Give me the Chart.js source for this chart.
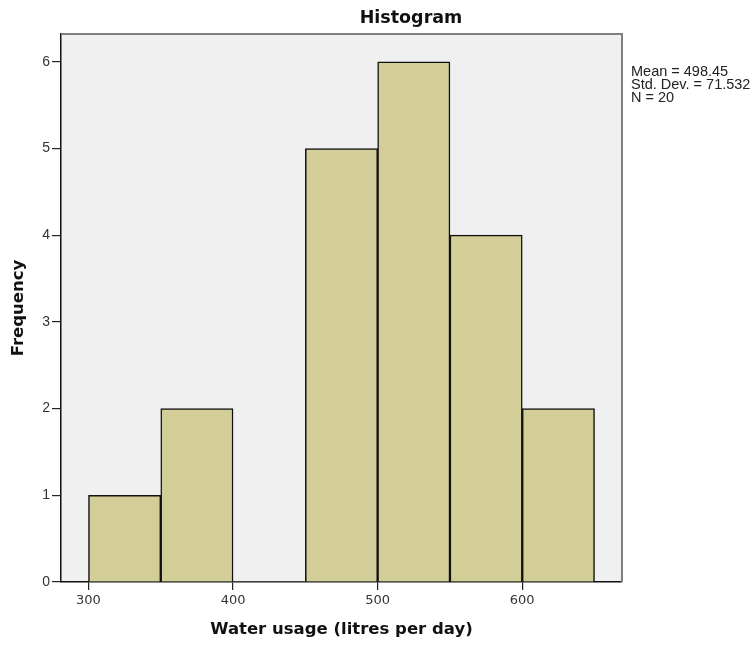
<!DOCTYPE html>
<html>
<head>
<meta charset="utf-8">
<title>Histogram</title>
<script src="https://cdn.jsdelivr.net/npm/chart.js@4"></script>
<style>
  body { margin: 0; background: #ffffff; }
  #wrap { width: 753px; height: 646px; }
</style>
</head>
<body>
<div id="wrap"><canvas id="hist" width="753" height="646"></canvas></div>
<script>
// Histogram data: bin centres (width 50) and counts
const binCentres = [325, 375, 425, 475, 525, 575, 625];
const counts = [1, 2, 0, 5, 6, 4, 2];
const xTicks = [300, 400, 500, 600];
const yTicks = [0, 1, 2, 3, 4, 5, 6];
const statsLines = ['Mean = 498.45', 'Std. Dev. = 71.532', 'N = 20'];

// plot background, top/right frame, title and stats text
const frame = {
  id: 'frame',
  beforeDraw(chart) {
    const { ctx, chartArea: a } = chart;
    ctx.save();
    ctx.fillStyle = '#f0f0f0';
    ctx.fillRect(a.left, a.top, a.right - a.left, a.bottom - a.top);
    ctx.restore();
  },
  afterDraw(chart) {
    const { ctx, chartArea: a } = chart;
    ctx.save();
    ctx.strokeStyle = '#808080';
    ctx.lineWidth = 2;
    ctx.beginPath();
    ctx.moveTo(a.left, a.top);
    ctx.lineTo(a.right, a.top);
    ctx.lineTo(a.right, a.bottom);
    ctx.stroke();

    ctx.fillStyle = '#111';
    ctx.font = 'bold 17.5px "DejaVu Sans"';
    ctx.textAlign = 'center';
    ctx.textBaseline = 'alphabetic';
    ctx.fillText('Histogram', 411, 23);

    ctx.fillStyle = '#222';
    ctx.font = '14.5px "Liberation Sans"';
    ctx.textAlign = 'left';
    statsLines.forEach((s, i) => ctx.fillText(s, 631, 76 + i * 12.8));
    ctx.restore();
  }
};

new Chart(document.getElementById('hist'), {
  type: 'bar',
  data: {
    datasets: [{
      data: binCentres.map((x, i) => ({ x: x, y: counts[i] })),
      backgroundColor: '#d3ce97',
      borderColor: '#111',
      borderWidth: ctx => (ctx.raw && ctx.raw.y === 0 ? 0 : 1.5),
      barPercentage: 1,
      categoryPercentage: 1
    }]
  },
  options: {
    responsive: false,
    animation: false,
    layout: { padding: { top: 34, right: 131, left: 0, bottom: 0 } },
    plugins: { legend: { display: false }, tooltip: { enabled: false } },
    scales: {
      x: {
        type: 'linear',
        min: 281,
        max: 669,
        offset: false,
        afterFit: s => { s.height = 64; },
        afterBuildTicks: s => { s.ticks = xTicks.map(v => ({ value: v })); },
        ticks: { color: '#333', font: { family: 'DejaVu Sans', size: 13 }, padding: 3, maxRotation: 0 },
        grid: { offset: false, drawOnChartArea: false, drawTicks: true, tickLength: 8, color: '#222', lineWidth: 1.2 },
        border: { display: true, color: '#111', width: 1.5 },
        title: { display: true, text: 'Water usage (litres per day)', color: '#111',
                 font: { family: 'DejaVu Sans', size: 16.5, weight: 'bold' }, padding: { top: 0, bottom: 6 } }
      },
      y: {
        min: 0,
        max: 6.32,
        afterFit: s => { s.width = 61; },
        afterBuildTicks: s => { s.ticks = yTicks.map(v => ({ value: v })); },
        ticks: { color: '#333', font: { family: 'Liberation Sans', size: 14 }, padding: 2 },
        grid: { drawOnChartArea: false, drawTicks: true, tickLength: 9, color: '#222', lineWidth: 1.2 },
        border: { display: true, color: '#111', width: 1.5 },
        title: { display: true, text: 'Frequency', color: '#111',
                 font: { family: 'DejaVu Sans', size: 16.5, weight: 'bold' }, padding: { top: 9, bottom: 0 } }
      }
    }
  },
  plugins: [frame]
});
</script>
</body>
</html>
